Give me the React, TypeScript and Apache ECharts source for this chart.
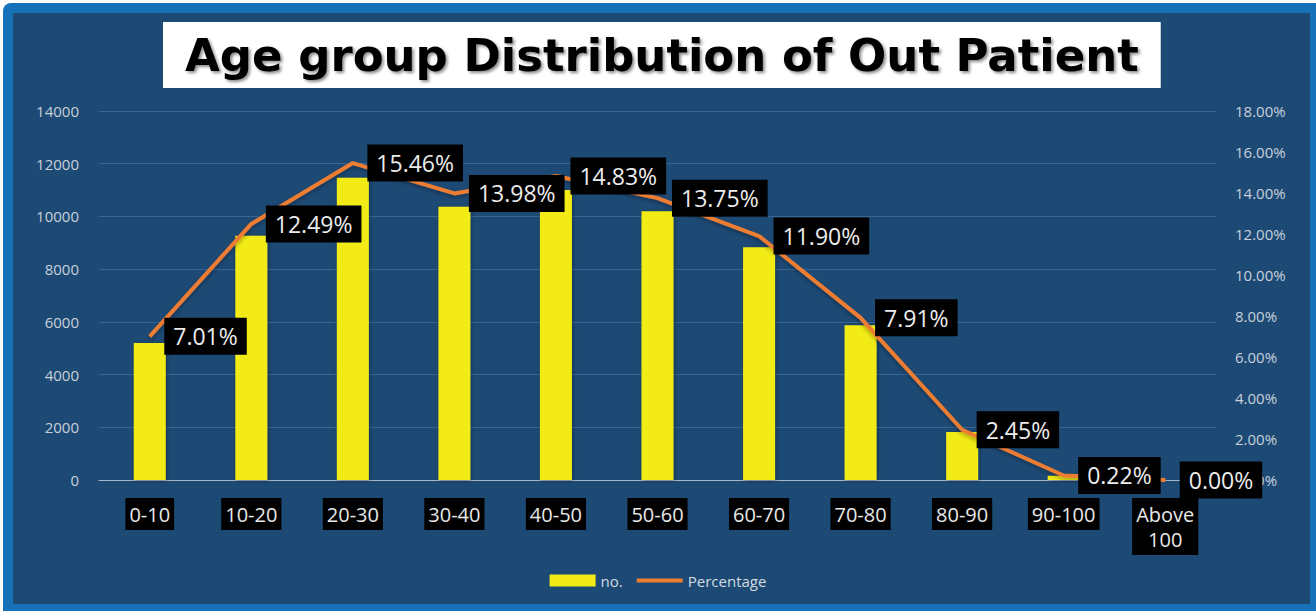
import React, { useEffect, useRef } from "react";
import * as echarts from "echarts";

const categories = ["0-10", "10-20", "20-30", "30-40", "40-50", "50-60", "60-70", "70-80", "80-90", "90-100", "Above 100"];
const counts = [5200, 9265, 11468, 10370, 11001, 10200, 8827, 5868, 1817, 163, 3];
const percentages = [7.01, 12.49, 15.46, 13.98, 14.83, 13.75, 11.9, 7.91, 2.45, 0.22, 0.0];
const titleText = "Age group Distribution of Out Patient";
const seriesNames = ["no.", "Percentage"];

export default function App() {
  const ref = useRef<HTMLDivElement>(null);
  useEffect(() => {
    if (!ref.current) return;
    const chart = echarts.init(ref.current, null, { renderer: "svg" });
    const font = "'Open Sans', 'Liberation Sans', sans-serif";
    chart.setOption({
      animation: false,
      backgroundColor: "#ffffff",
      textStyle: { fontFamily: font },
      graphic: [
        { type: "rect", z: -10, shape: { x: 3, y: 3, width: 1320, height: 620, r: 8 }, style: { fill: "#1671b9" } },
        { type: "rect", z: -9, shape: { x: 13, y: 13, width: 1297, height: 591 }, style: { fill: "#1d4a75" } },
      ],
      title: {
        text: titleText,
        left: 163,
        top: 22,
        backgroundColor: "#ffffff",
        padding: [5, 22, 5, 22],
        textStyle: {
          fontFamily: "'DejaVu Sans', 'Open Sans', sans-serif",
          fontSize: 45,
          fontWeight: "bold",
          color: "#000000",
          lineHeight: 56,
          textShadowColor: "rgba(0,0,0,0.45)",
          textShadowBlur: 3,
          textShadowOffsetX: 2,
          textShadowOffsetY: 2,
        },
      },
      legend: {
        bottom: 18,
        left: "center",
        itemWidth: 46,
        itemHeight: 12,
        itemGap: 14,
        symbolKeepAspect: true,
        textStyle: { color: "#d3d9e0", fontSize: 15, fontFamily: font },
        data: [
          { name: seriesNames[0], icon: "rect" },
          { name: seriesNames[1], icon: "path://M0,0H46V4H0Z" },
        ],
      },
      grid: { left: 99, right: 100, top: 111, bottom: 131 },
      xAxis: {
        type: "category",
        data: categories,
        axisLine: { lineStyle: { color: "#a9b7c8", width: 1 } },
        axisTick: { show: false },
        axisLabel: {
          interval: 0,
          margin: 18,
          color: "#e8e8e8",
          fontSize: 20,
          lineHeight: 25,
          fontFamily: font,
          backgroundColor: "#000000",
          padding: [4, 4, 3, 4],
          formatter: (v: string) => v.replace(" ", "\n"),
        },
      },
      yAxis: [
        {
          type: "value",
          min: 0,
          max: 14000,
          interval: 2000,
          axisLine: { show: false },
          axisTick: { show: false },
          splitLine: { lineStyle: { color: "#3a6592", width: 1 } },
          axisLabel: { color: "#c7d0db", fontSize: 15, margin: 20, fontFamily: font, formatter: (v: number) => String(v) },
        },
        {
          type: "value",
          min: 0,
          max: 18,
          interval: 2,
          axisLine: { show: false },
          axisTick: { show: false },
          splitLine: { show: false },
          axisLabel: {
            color: "#c7d0db",
            fontSize: 15,
            margin: 19,
            fontFamily: font,
            formatter: (v: number) => v.toFixed(2) + "%",
          },
        },
      ],
      series: [
        {
          name: seriesNames[0],
          type: "bar",
          data: counts,
          barWidth: 32,
          itemStyle: {
            color: "#f3eb16",
            shadowColor: "rgba(0,0,0,0.35)",
            shadowBlur: 4,
            shadowOffsetX: 1,
            shadowOffsetY: 1,
          },
        },
        {
          name: seriesNames[1],
          type: "line",
          yAxisIndex: 1,
          data: percentages,
          showSymbol: true,
          symbol: "circle",
          symbolSize: 1,
          z: 5,
          lineStyle: {
            color: "#ed7d31",
            width: 4,
            shadowColor: "rgba(0,0,0,0.35)",
            shadowBlur: 4,
            shadowOffsetY: 2,
          },
          itemStyle: { color: "#ed7d31" },
          label: {
            show: true,
            position: "right",
            distance: 14,
            color: "#ececec",
            fontSize: 23,
            lineHeight: 26,
            fontFamily: font,
            backgroundColor: "#000000",
            padding: [6, 9, 5, 9],
            formatter: (p: any) => Number(p.value).toFixed(2) + "%",
          },
          labelLayout: { hideOverlap: false },
        },
      ],
    });
    return () => chart.dispose();
  }, []);
  return <div ref={ref} style={{ position: "fixed", left: 0, top: 0, width: 1316, height: 611 }} />;
}
